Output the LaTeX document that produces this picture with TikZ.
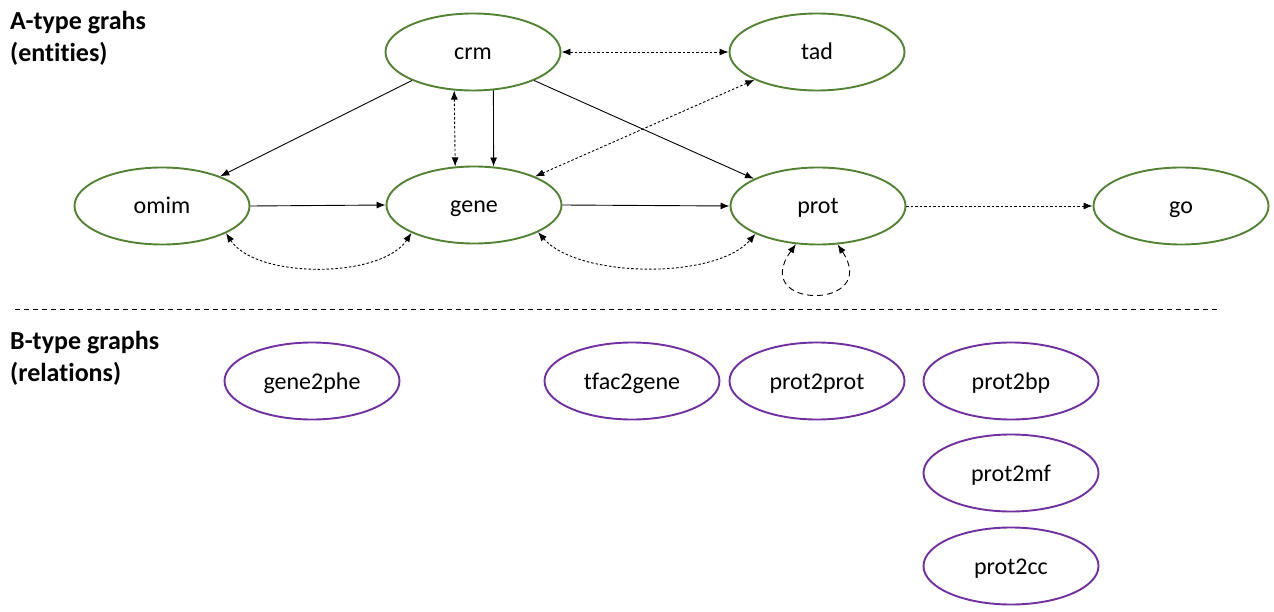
\documentclass[tikz,border=0pt]{standalone}
\usepackage{fontspec}
\setmainfont{Carlito}[Ligatures={NoCommon}]
\usetikzlibrary{arrows.meta,shapes.geometric}
\definecolor{ent}{HTML}{548235}
\definecolor{rel}{HTML}{7030A0}
\begin{document}
\begin{tikzpicture}[x=1pt,y=-1pt,
  ell/.style={ellipse,draw=ent,line width=1.9pt,minimum width=175pt,minimum height=77pt,inner sep=0pt,font=\fontsize{24}{28}\selectfont,text height=20pt,text depth=4pt},
  rell/.style={ell,draw=rel},
  hdr/.style={anchor=west,align=left,inner sep=0pt,font=\fontsize{26}{32}\selectfont\bfseries},
  conn/.style={line width=0.9pt,-{Latex[length=9pt,width=7pt]}},
  dotc/.style={line width=0.9pt,dash pattern=on 2.5pt off 2pt,{Latex[length=9pt,width=7pt]}-{Latex[length=9pt,width=7pt]}},
  loopc/.style={line width=0.9pt,dash pattern=on 6pt off 4pt,{Latex[length=9pt,width=7pt]}-{Latex[length=9pt,width=7pt]}}
]
\useasboundingbox (0,0) rectangle (1274,612);
\node[hdr] (ahdr) at (10,38) {A-type grahs\\(entities)};
\node[hdr] (bhdr) at (10,358) {B-type graphs\\(relations)};
\node[ell] (crm) at (473,52) {crm};
\node[ell] (tad) at (817,52) {tad};
\node[ell] (omim) at (162,206) {omim};
\node[ell] (gene) at (474,205) {gene};
\node[ell] (prot) at (818,206) {prot};
\node[ell] (go) at (1181,206) {go};
\node[rell] (g2p) at (312,381) {gene2phe};
\node[rell] (tf2g) at (632,381) {tfac2gene};
\node[rell] (p2p) at (817,381) {prot2prot};
\node[rell] (p2bp) at (1011,381) {prot2bp};
\node[rell] (p2mf) at (1011,473) {prot2mf};
\node[rell] (p2cc) at (1011,566) {prot2cc};
\coordinate (sepl) at (15,309);
\coordinate (sepr) at (1220,309);
\draw[line width=0.9pt,dash pattern=on 5pt off 4pt] (sepl) -- (sepr);
\draw[conn] (crm.205) -- (omim.27);
\draw[dotc] (crm.244) -- (gene.116);
\draw[conn] (crm.298) -- (gene.63);
\draw[conn] (crm.335) -- (prot.157);
\draw[dotc] (crm.east) -- (tad.west);
\draw[dotc] (tad.204) -- (gene.25);
\draw[conn] (omim.east) -- (gene.west);
\draw[conn] (gene.east) -- (prot.west);
\draw[line width=0.9pt,dash pattern=on 2.5pt off 2pt,-{Latex[length=9pt,width=7pt]}] (prot.east) -- (go.west);
\draw[dotc] (omim.337) .. controls +(30,46) and +(-30,46) .. (gene.204);
\draw[dotc] (gene.337) .. controls +(40,46) and +(-40,46) .. (prot.204);
\draw[loopc] (prot.240) .. controls +(-48,66) and +(44,66) .. (prot.297);
\end{tikzpicture}
\end{document}
